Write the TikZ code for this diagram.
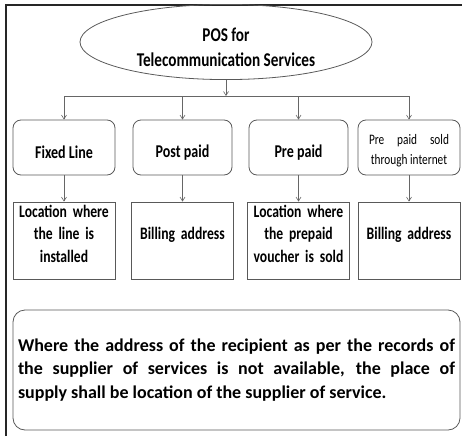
\documentclass[tikz,border=0pt]{standalone}
\usepackage{fontspec}
\setmainfont{Carlito}
\newfontfamily\condensed[FakeStretch=0.78]{Carlito}
\usetikzlibrary{arrows.meta,positioning,shapes.geometric,calc}

\newcommand\toppad[1]{\rule{0pt}{#1}}
\newcommand\lowpad{\rule[-14pt]{0pt}{1pt}}

\begin{document}
\begin{tikzpicture}[
  x=1pt,y=-1pt,
  every node/.style={inner sep=2pt,text=black},
  arr/.style={draw=gray!80!black,line width=0.6pt,-{Straight Barb[length=4pt,width=5pt]}},
  headbox/.style={draw=gray!70!black,line width=0.8pt,ellipse,minimum width=292pt,
                  minimum height=59pt,align=center,
                  font=\condensed\bfseries\fontsize{19.5}{25}\selectfont},
  kindbox/.style={draw=gray!70!black,line width=0.8pt,rounded corners=8pt,minimum height=55pt,
                  align=center,font=\condensed\bfseries\fontsize{18}{21}\selectfont},
  placebox/.style={draw=gray!70!black,line width=0.8pt,minimum height=77pt,text width=98pt,
                   align=center,font=\condensed\bfseries\fontsize{17.5}{22.5}\selectfont},
  notebox/.style={draw=gray!70!black,line width=0.8pt,rounded corners=12pt,minimum width=447pt,
                  minimum height=120pt,text width=437pt,align=justify,
                  font=\fontsize{18}{23.5}\selectfont\bfseries},
]
  \useasboundingbox (0,0) rectangle (462,436);
  % outer frame
  \draw[gray!30!black,line width=2pt] (6,436) -- (6,5) -- (462,5);

  % Root
  \node[headbox] (pos) at (226,42) {\toppad{24pt}POS for\\Telecommunication Services};
  \coordinate (split) at (226,96);

  % Kinds of service
  \node[kindbox,minimum width=102pt] (fixed) at (64,147.5) {\toppad{22pt}Fixed Line};
  \node[kindbox,minimum width=99pt] (post) at (182.5,147.5) {\toppad{22pt}Post paid};
  \node[kindbox,minimum width=99pt] (pre) at (298.5,147.5) {\toppad{22pt}Pre paid};
  \node[kindbox,minimum width=102pt,font=\condensed\fontsize{14.5}{20}\selectfont] (inet) at (409,147.5)
    {\toppad{16pt}\makebox[80pt][s]{Pre paid sold}\\through internet};

  % Places of supply
  \node[placebox,minimum width=102pt] (fixedp) at (64,240.5) {Location where\\the line is\\installed\lowpad};
  \node[placebox,minimum width=99pt] (postp) at (182.5,240.5) {Billing address\lowpad};
  \node[placebox,minimum width=99pt] (prep) at (298.5,240.5) {Location where\\the prepaid\\voucher is sold\lowpad};
  \node[placebox,minimum width=102pt] (inetp) at (409,240.5) {Billing address\lowpad};

  % Note
  \node[notebox] (note) at (236.5,370) {Where the address of the recipient as per the records of\linebreak
    the supplier of services is not available, the place of\linebreak
    supply shall be location of the supplier of service.};

  % connectors
  \draw[arr] (pos) -- (split);
  \draw[draw=gray!80!black,line width=0.6pt] (fixed.north |- split) -- (inet.north |- split);
  \foreach \k in {fixed,post,pre,inet}{
    \draw[arr] (\k.north |- split) -- (\k);
    \draw[arr] (\k) -- (\k p);
  }
\end{tikzpicture}
\end{document}
